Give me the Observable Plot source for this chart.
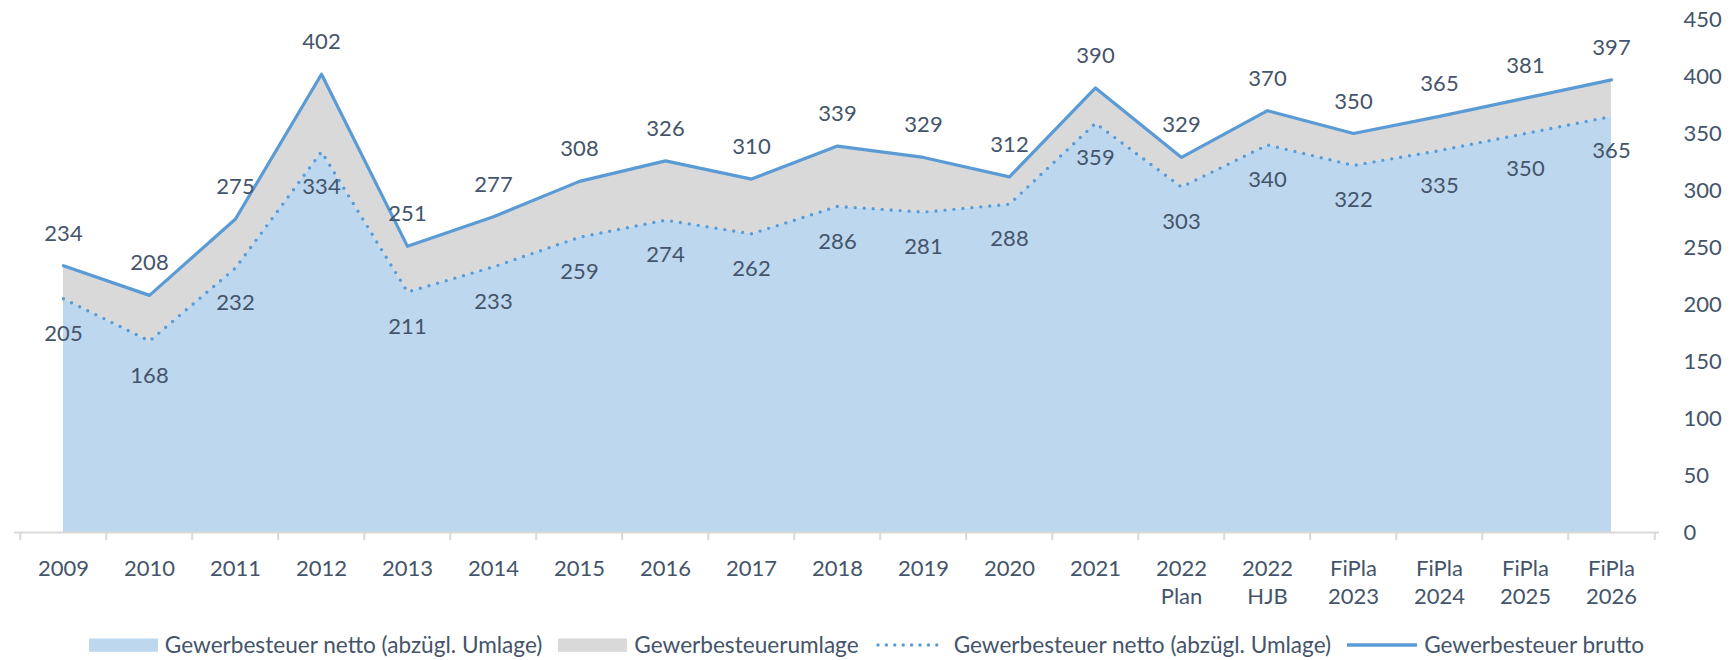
<!DOCTYPE html>
<html>
<head>
<meta charset="utf-8">
<script src="https://cdn.jsdelivr.net/npm/d3@7"></script>
<script src="https://cdn.jsdelivr.net/npm/@observablehq/plot@0.6"></script>
<style>
  html, body { margin: 0; padding: 0; background: #fff; overflow: hidden; }
  #chart { width: 1733px; height: 660px; position: relative; font-family: Lato, sans-serif; color: #44546a; }
  .legend { position: absolute; left: 0; width: 1733px; top: 633px; display: flex; justify-content: center; align-items: center; font-size: 22.6px; line-height: 24px; }
  .item { display: flex; align-items: center; margin: 0 8px; }
  .item svg { margin-right: 7px; display: block; }
</style>
</head>
<body>
<div id="chart"></div>
<script>
const categories = ["2009","2010","2011","2012","2013","2014","2015","2016","2017","2018","2019","2020","2021","2022\nPlan","2022\nHJB","FiPla\n2023","FiPla\n2024","FiPla\n2025","FiPla\n2026"];
const brutto = [234,208,275,402,251,277,308,326,310,339,329,312,390,329,370,350,365,381,397];
const netto  = [205,168,232,334,211,233,259,274,262,286,281,288,359,303,340,322,335,350,365];
const yTicks = [0,50,100,150,200,250,300,350,400,450];
const seriesNames = ["Gewerbesteuer netto (abzügl. Umlage)","Gewerbesteuerumlage","Gewerbesteuer netto (abzügl. Umlage)","Gewerbesteuer brutto"];

const colBlue = "#bdd7ee", colGray = "#d9d9d9", colLine = "#5b9bd5", colText = "#44546a";
const FS = 22;

const data = categories.map((c, i) => ({cat: c, brutto: brutto[i], netto: netto[i]}));

const W = 1733, H = 620, ML = 14, MR = 74, MT = 19, MB = 88;
const step = (W - ML - MR) / categories.length;

const plot = Plot.plot({
  width: W, height: H,
  marginLeft: ML, marginRight: MR, marginTop: MT, marginBottom: MB,
  style: {fontFamily: "Lato, sans-serif", fontSize: FS + "px", color: colText, background: "white", position: "absolute", left: "0px", top: "0px"},
  x: {type: "point", domain: categories, padding: 0.5, label: null},
  y: {domain: [0, 450], label: null},
  marks: [
    Plot.areaY(data, {x: "cat", y1: 0, y2: "netto", fill: colBlue}),
    Plot.areaY(data, {x: "cat", y1: "netto", y2: "brutto", fill: colGray}),
    Plot.ruleY([0], {stroke: colGray, strokeWidth: 2}),
    Plot.ruleX(categories, {x: d => d, y1: 0, y2: -7, dx: -step / 2, stroke: colGray, strokeWidth: 2}),
    Plot.ruleX(categories.slice(-1), {x: d => d, y1: 0, y2: -7, dx: step / 2, stroke: colGray, strokeWidth: 2}),
    Plot.line(data, {x: "cat", y: "netto", stroke: colLine, strokeWidth: 3.4, strokeDasharray: "0 9", strokeLinecap: "round"}),
    Plot.line(data, {x: "cat", y: "brutto", stroke: colLine, strokeWidth: 3.2}),
    Plot.text(data, {x: "cat", y: "brutto", text: d => String(d.brutto), dy: -32, fill: colText, fontSize: FS}),
    Plot.text(data, {x: "cat", y: "netto", text: d => String(d.netto), dy: 35, fill: colText, fontSize: FS}),
    Plot.axisX({tickSize: 0, tickPadding: 23, lineHeight: 1.3, fill: colText, fontSize: FS}),
    Plot.axisY({anchor: "right", ticks: yTicks, tickSize: 0, tickPadding: 24, fill: colText, fontSize: FS})
  ]
});

const chart = document.getElementById("chart");
chart.appendChild(plot);

const legend = document.createElement("div");
legend.className = "legend";
const swatches = [
  `<svg width="69" height="14"><rect x="0" y="0.5" width="69" height="13.3" fill="${colBlue}"/></svg>`,
  `<svg width="72" height="14"><rect x="0" y="0.5" width="69" height="13.3" fill="${colGray}"/></svg>`.replace('width="72"', 'width="69"'),
  `<svg width="72" height="14"><line x1="3" x2="70" y1="7" y2="7" stroke="${colLine}" stroke-width="3.4" stroke-dasharray="0 8.4" stroke-linecap="round"/></svg>`,
  `<svg width="70" height="14"><line x1="0" x2="70" y1="7" y2="7" stroke="${colLine}" stroke-width="3.3"/></svg>`
];
seriesNames.forEach((name, i) => {
  const it = document.createElement("div");
  it.className = "item";
  it.innerHTML = swatches[i] + `<span>${name}</span>`;
  legend.appendChild(it);
});
chart.appendChild(legend);
</script>
</body>
</html>
